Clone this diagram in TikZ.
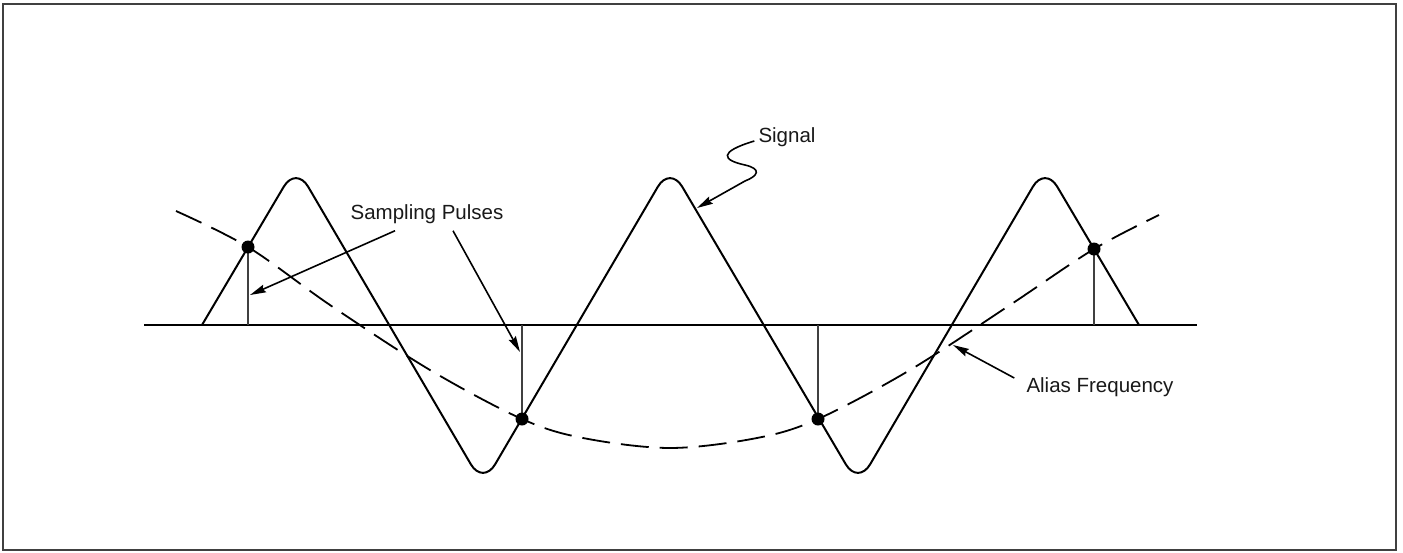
\documentclass[tikz,border=0pt]{standalone}
\usepackage{fontspec}
\setmainfont{Liberation Sans}
\usetikzlibrary{arrows.meta,positioning,calc}

\begin{document}
\begin{tikzpicture}[
  x=1pt, y=-1pt,
  lbl/.style={inner sep=2pt, font=\fontsize{20.5}{24}\selectfont, text=black!90},
  dot/.style={circle, fill=black, inner sep=0pt, minimum size=13pt},
  wave/.style={line width=2pt, rounded corners=24pt, line join=round},
  pulse/.style={line width=1.3pt, black!75},
  alias/.style={line width=1.8pt, dash pattern=on 28pt off 11pt},
  arr/.style={-{Stealth[length=16pt, width=8pt, inset=2pt]}, line width=1.6pt}
]
\useasboundingbox (0,0) rectangle (1403,552);

% Frame
\draw[line width=1.8pt, black!75] (3,4) rectangle (1396,550);

% Time axis
\coordinate (axisL) at (144,325);
\coordinate (axisR) at (1197,325);
\draw[line width=1.8pt] (axisL) -- (axisR);

% Signal
\draw[wave] (202,325) -- (296,166) -- (483,485) -- (670,166)
  -- (858,485) -- (1045,166) -- (1139,325);

% Sample points
\coordinate (c1) at (248,247);
\coordinate (c2) at (522,419);
\coordinate (c3) at (818,419);
\coordinate (c4) at (1094,249);

% Alias Frequency
\draw[alias] plot[smooth, tension=0.55] coordinates {(176,211) (c1) (330,305) (430,370)
  (c2) (583,438) (670,448) (757,438) (c3) (910,370) (1010,305) (c4) (1159,215)};

% Sampling Pulses
\draw[pulse] (c1) -- (c1 |- axisL);
\draw[pulse] (c2) -- (c2 |- axisL);
\draw[pulse] (c3) -- (c3 |- axisL);
\draw[pulse] (c4) -- (c4 |- axisL);

\node[dot] (s1) at (c1) {};
\node[dot] (s2) at (c2) {};
\node[dot] (s3) at (c3) {};
\node[dot] (s4) at (c4) {};

% Labels
\node[lbl] (sampling) at (427,214) {Sampling Pulses};
\node[lbl] (signal) at (787,137) {Signal};
\node[lbl] (alias) at (1100,387) {Alias Frequency};

\coordinate (tipA) at (250,295);
\coordinate (tipB) at (520,352);
\coordinate (sigtip) at (697,208);
\coordinate (aliastip) at (953,345);

\draw[arr] ([xshift=-32pt, yshift=-5pt]sampling.south) -- (tipA);
\draw[arr] ([xshift=26pt, yshift=-5pt]sampling.south) -- (tipB);
\draw[arr] ([xshift=-2pt, yshift=-4pt]signal.west) .. controls (718,152) and (722,160) .. (745,165)
  .. controls (762,169) and (758,176) .. (745,181) -- (sigtip);
\draw[arr] ([xshift=-10pt, yshift=9pt]alias.west) -- (aliastip);

\end{tikzpicture}
\end{document}
